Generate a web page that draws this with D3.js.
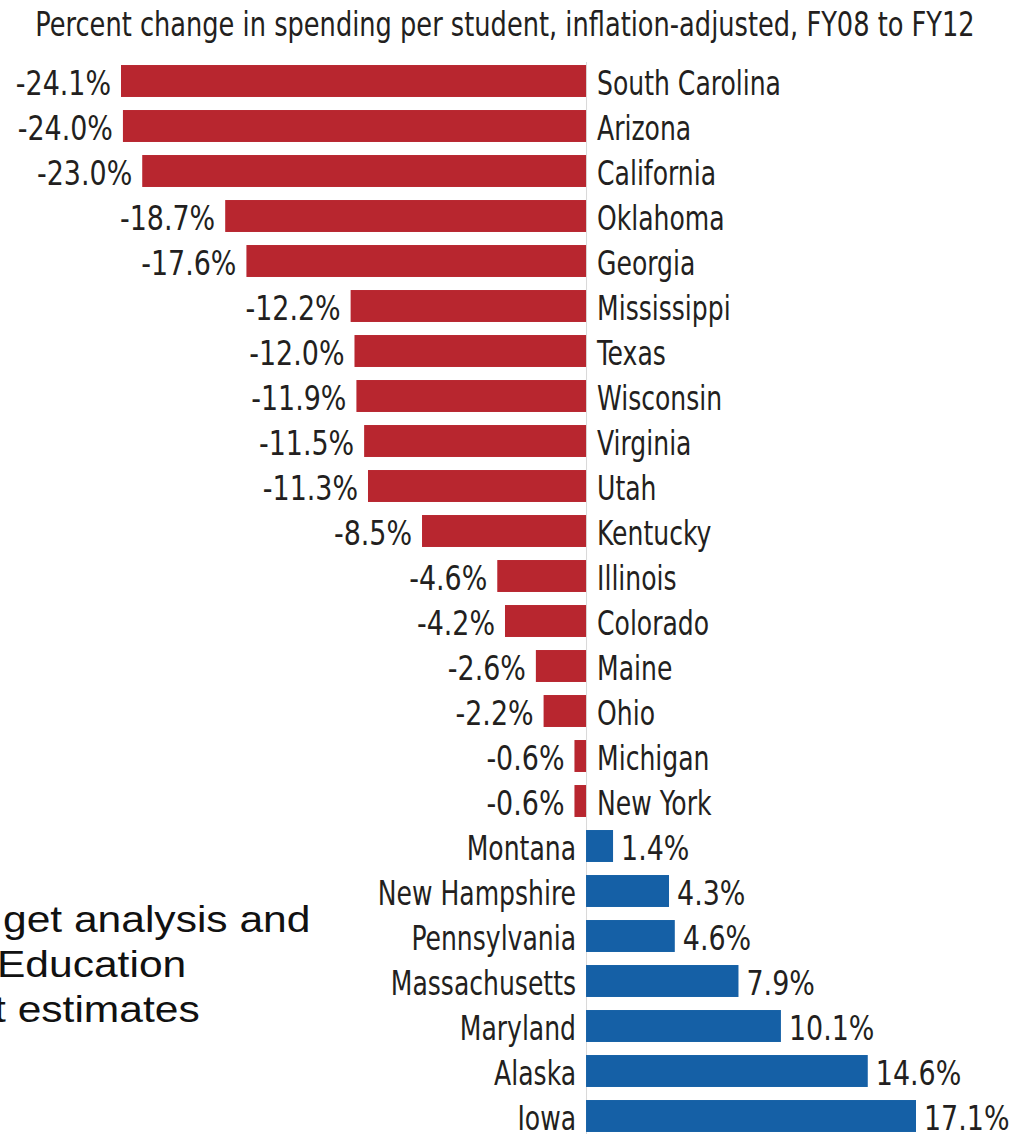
<!DOCTYPE html>
<html>
<head>
<meta charset="utf-8">
<script src="https://cdn.jsdelivr.net/npm/d3@7"></script>
<style>
  body { margin: 0; background: #fff; }
  svg { display: block; }
  .lbl { font-family: "DejaVu Sans Condensed", "DejaVu Sans", sans-serif; fill: #231f20; }
  .note { font-family: "Liberation Sans", Arial, sans-serif; fill: #111; }
</style>
</head>
<body>
<svg id="chart" width="1013" height="1134"></svg>
<script>
// state names and values, top to bottom
const states = ['South Carolina', 'Arizona', 'California', 'Oklahoma', 'Georgia',
  'Mississippi', 'Texas', 'Wisconsin', 'Virginia', 'Utah', 'Kentucky', 'Illinois',
  'Colorado', 'Maine', 'Ohio', 'Michigan', 'New York', 'Montana', 'New Hampshire',
  'Pennsylvania', 'Massachusetts', 'Maryland', 'Alaska', 'Iowa'];
const changes = [-24.1, -24.0, -23.0, -18.7, -17.6, -12.2, -12.0, -11.9, -11.5, -11.3,
  -8.5, -4.6, -4.2, -2.6, -2.2, -0.6, -0.6, 1.4, 4.3, 4.6, 7.9, 10.1, 14.6, 17.1];
const title = 'Percent change in spending per student, inflation-adjusted, FY08 to FY12';
// left-hand source note, cut off at the edge in the reference
const noteLines = ['get analysis and', 'Education', 't estimates'];

const data = states.map((s, i) => ({ state: s, value: changes[i] }));

const svg = d3.select('#chart');

// Scales
const x = d3.scaleLinear().domain([-24.1, 17.1]).range([121, 916]);
const y = d3.scaleBand()
  .domain(states)
  .range([58.5, 1138.5])
  .paddingInner(0.29)
  .paddingOuter(0.145);

const fmt = (v) => d3.format('.1f')(v).replace('\u2212', '-') + '%';

// title (condensed look via horizontal squeeze)
svg.append('text')
  .attr('class', 'lbl')
  .attr('transform', 'translate(505,36) scale(0.84,1)')
  .attr('text-anchor', 'middle')
  .attr('font-size', 34)
  .text(title);

// source note
svg.selectAll('.note')
  .data(noteLines)
  .enter()
  .append('text')
  .attr('class', 'note')
  .attr('transform', (d, i) => `translate(${[3, -3, -6][i]},${932 + i * 45}) scale(1.15,1)`)
  .attr('font-size', 37)
  .text((d) => d);

// zero line
svg.append('line')
  .attr('x1', x(0) + 0.5)
  .attr('x2', x(0) + 0.5)
  .attr('y1', 62)
  .attr('y2', 1134)
  .attr('stroke', '#d8d8d8')
  .attr('stroke-width', 1);

const rows = svg.selectAll('.row')
  .data(data)
  .enter()
  .append('g')
  .attr('class', 'row');

rows.append('rect')
  .attr('x', (d) => Math.min(x(d.value), x(0)))
  .attr('y', (d) => y(d.state))
  .attr('width', (d) => Math.abs(x(d.value) - x(0)))
  .attr('height', y.bandwidth())
  .attr('fill', (d) => (d.value < 0 ? '#b8262f' : '#1560a6'));

// value labels
rows.append('text')
  .attr('class', 'lbl')
  .attr('transform', (d) => {
    const tx = d.value < 0 ? x(d.value) - 10 : x(d.value) + 8;
    return `translate(${tx},${y(d.state) + y.bandwidth() / 2}) scale(0.88,1)`;
  })
  .attr('dy', '0.4em')
  .attr('text-anchor', (d) => (d.value < 0 ? 'end' : 'start'))
  .attr('font-size', 34)
  .text((d) => fmt(d.value));

// state labels
rows.append('text')
  .attr('class', 'lbl')
  .attr('transform', (d) => {
    const tx = d.value < 0 ? x(0) + 11 : x(0) - 10;
    return `translate(${tx},${y(d.state) + y.bandwidth() / 2}) scale(0.82,1)`;
  })
  .attr('dy', '0.4em')
  .attr('text-anchor', (d) => (d.value < 0 ? 'start' : 'end'))
  .attr('font-size', 34)
  .text((d) => d.state);
</script>
</body>
</html>
